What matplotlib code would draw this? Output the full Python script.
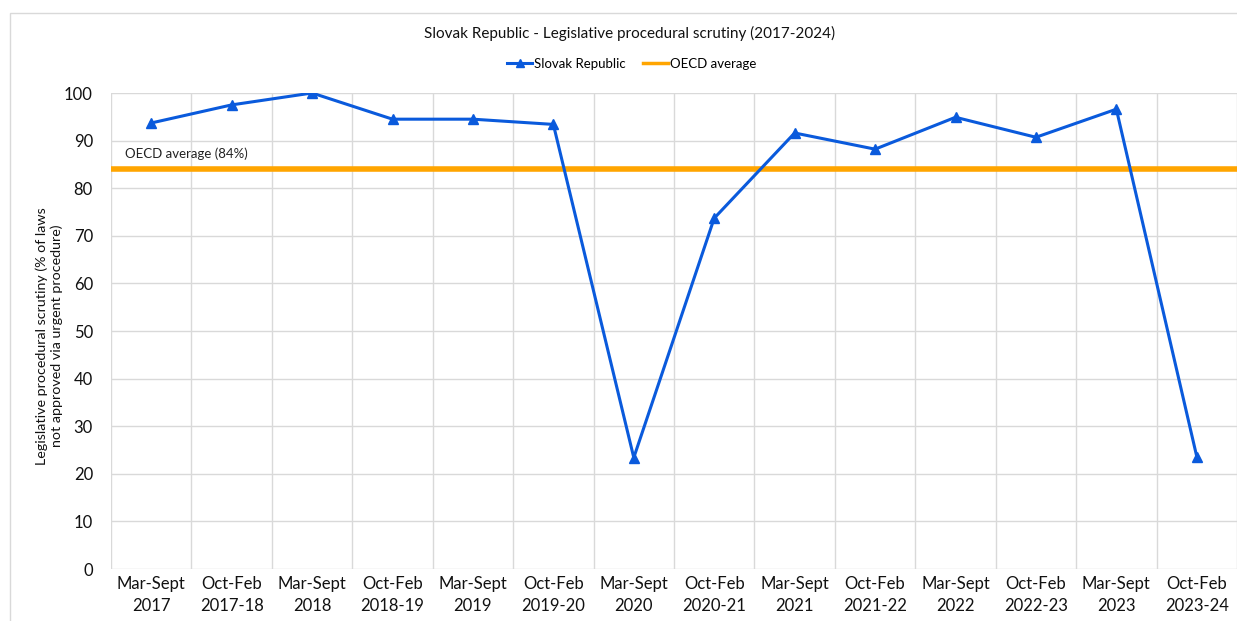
import matplotlib
matplotlib.use("Agg")
import matplotlib.pyplot as plt
from matplotlib.lines import Line2D
from matplotlib.patches import Rectangle

plt.rcParams['font.family'] = ['Lato', 'DejaVu Sans']

categories = ["Mar-Sept\n2017", "Oct-Feb\n2017-18", "Mar-Sept\n2018", "Oct-Feb\n2018-19",
              "Mar-Sept\n2019", "Oct-Feb\n2019-20", "Mar-Sept\n2020", "Oct-Feb\n2020-21",
              "Mar-Sept\n2021", "Oct-Feb\n2021-22", "Mar-Sept\n2022", "Oct-Feb\n2022-23",
              "Mar-Sept\n2023", "Oct-Feb\n2023-24"]
slovak = [93.7, 97.5, 100.0, 94.5, 94.5, 93.4, 23.4, 73.7, 91.6, 88.2, 94.9, 90.7, 96.6, 23.6]
oecd_avg = 84.0
yticks = [0, 10, 20, 30, 40, 50, 60, 70, 80, 90, 100]

W, H = 1237, 621
fig = plt.figure(figsize=(W / 100, H / 100), dpi=100)
ax = fig.add_axes([111 / W, 1 - 569 / H, (1237 - 111) / W, (569 - 93) / H])

n = len(categories)
x = list(range(n))
ax.set_xlim(-0.5, n - 0.5)
ax.set_ylim(0, 100)

# gridlines
for b in range(n + 1):
    ax.axvline(b - 0.5, color='#d9d9d9', lw=1.0, zorder=0)
for t in yticks:
    ax.axhline(t, color='#d9d9d9', lw=1.0, zorder=0)

ax.plot([-0.5, n - 0.5], [oecd_avg, oecd_avg], color='#FFA500', lw=4, zorder=2,
        solid_capstyle='butt')
ax.plot(x, slovak, color='#0A5ADC', lw=2.2, marker='^', markersize=7, zorder=3)

ax.text(-0.33, 86.0, "OECD average (84%)", fontsize=9.5, color='#222222', va='bottom', ha='left')

ax.set_xticks(x)
ax.set_xticklabels(categories, fontsize=12, color='#111111', linespacing=1.5)
ax.set_yticks(yticks)
ax.set_yticklabels([str(t) for t in yticks], fontsize=12, color='#111111')
ax.tick_params(axis='x', length=0, pad=5)
ax.tick_params(axis='y', length=0, pad=13)
for s in ax.spines.values():
    s.set_visible(False)

ax.set_ylabel("Legislative procedural scrutiny (% of laws\nnot approved via urgent procedure)",
              fontsize=10.3, color='#111111', linespacing=1.2)
ax.yaxis.set_label_coords(-0.043, 0.49)

fig.text(630 / W, 1 - 33 / H, "Slovak Republic - Legislative procedural scrutiny (2017-2024)",
         fontsize=11, color='#111111', ha='center', va='center')

handles = [Line2D([0], [0], color='#0A5ADC', lw=2.2, marker='^', markersize=6),
           Line2D([0], [0], color='#FFA500', lw=2.5)]
fig.legend(handles, ["Slovak Republic", "OECD average"], loc='center',
           bbox_to_anchor=(632 / W, 1 - 64 / H), ncol=2, frameon=False, fontsize=9.5,
           handlelength=1.9, handletextpad=0.15, columnspacing=1.3)

fig.patches.append(Rectangle((10 / W, -0.1), 1.2, 1 - 13 / H + 0.1, transform=fig.transFigure,
                             fill=False, edgecolor='#d9d9d9', lw=1.0))

fig.savefig("out.png", dpi=100, facecolor='white')
